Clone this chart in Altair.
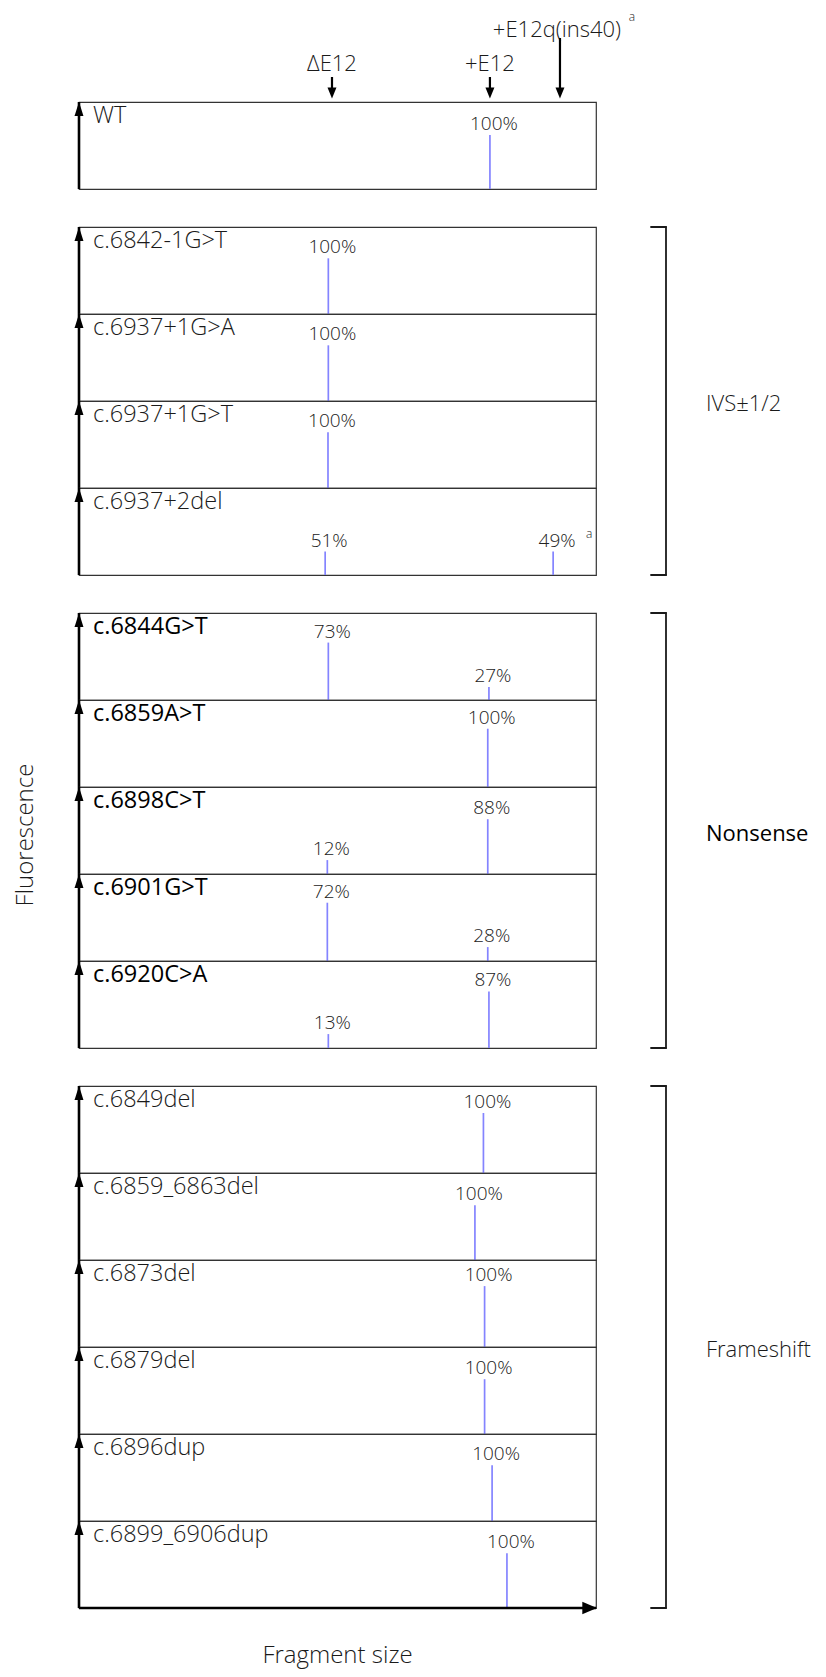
import altair as alt
import pandas as pd

# ---------------- data ----------------
panel_names = ["WT",
               "c.6842-1G>T", "c.6937+1G>A", "c.6937+1G>T", "c.6937+2del",
               "c.6844G>T", "c.6859A>T", "c.6898C>T", "c.6901G>T", "c.6920C>A",
               "c.6849del", "c.6859_6863del", "c.6873del", "c.6879del",
               "c.6896dup", "c.6899_6906dup"]
panel_groups = ["WT"] + ["IVS±1/2"] * 4 + ["Nonsense"] * 5 + ["Frameshift"] * 6

peak_panel = ["WT", "c.6842-1G>T", "c.6937+1G>A", "c.6937+1G>T",
              "c.6937+2del", "c.6937+2del",
              "c.6844G>T", "c.6844G>T", "c.6859A>T",
              "c.6898C>T", "c.6898C>T", "c.6901G>T", "c.6901G>T",
              "c.6920C>A", "c.6920C>A",
              "c.6849del", "c.6859_6863del", "c.6873del", "c.6879del",
              "c.6896dup", "c.6899_6906dup"]
peak_size = [246.4, 149.5, 149.5, 149.3,
             147.6, 284.3,
             149.5, 245.8, 245.1,
             148.9, 245.1, 148.9, 245.1,
             149.5, 245.8,
             242.5, 237.4, 243.2, 243.2,
             247.7, 256.6]
peak_height = [62, 64, 64, 64,
               27, 27,
               66, 15, 67,
               16, 63, 67, 16,
               16, 65,
               69, 63, 70, 63,
               64, 63]
peak_label = ["100%", "100%", "100%", "100%",
              "51%", "49%",
              "73%", "27%", "100%",
              "12%", "88%", "72%", "28%",
              "13%", "87%",
              "100%", "100%", "100%", "100%",
              "100%", "100%"]
peak_note = [""] * 5 + ["a"] + [""] * 15

marker_names = ["ΔE12", "+E12", "+E12q(ins40)"]
marker_size = [151.7, 246.4, 288.4]
marker_tier = [0, 0, 1]
marker_note = ["", "", "a"]

x_domain = [0, 310]
y_domain = [0, 100]
x_title = "Fragment size"
y_title = "Fluorescence"

peaks = pd.DataFrame({"panel": peak_panel, "size": peak_size,
                      "height": peak_height, "label": peak_label,
                      "note": peak_note})
markers = pd.DataFrame({"name": marker_names, "size": marker_size,
                        "tier": marker_tier, "note": marker_note})

# ---------------- style ----------------
FONT = "Open Sans"
LIGHT = 300
W, H, GAP = 517, 87, 38
PEAK = "#8484ff"
UP = "M0,0L0.64,2L-0.64,2Z"
DOWN = "M0,0L-0.64,-1.57L0.64,-1.57Z"
RIGHT = "M0,0L-2.1,-0.9L-2.1,0.9Z"

X = alt.X("size:Q", scale=alt.Scale(domain=x_domain), axis=None)
Y = alt.Y("height:Q", scale=alt.Scale(domain=y_domain), axis=None)


def one(**cols):
    if not cols:
        cols = {"k": [0]}
    return alt.Chart(pd.DataFrame(cols))


def txt(**kw):
    base = dict(font=FONT, fontWeight=LIGHT, color="#1a1a1a")
    base.update(kw)
    return base


def panel(name, group, idx, n, is_last):
    d = peaks[peaks.panel == name]
    base = alt.Chart(d)
    layers = [
        base.mark_rule(color=PEAK, strokeWidth=1.7).encode(x=X, y=Y, y2=alt.datum(0)),
        base.mark_text(**txt(fontSize=19, color="#222", baseline="alphabetic",
                             dx=4, dy=-5)).encode(x=X, y=Y, text="label:N"),
    ]
    dn = d[d.note != ""]
    if len(dn):
        layers.append(alt.Chart(dn).mark_text(**txt(fontSize=12, color="#222",
                                                     dx=36, dy=-18))
                      .encode(x=X, y=Y, text="note:N"))
    strong = group == "Nonsense"
    layers.append(one(name=[name]).mark_text(**txt(
        align="left", baseline="alphabetic", fontSize=23.5,
        fontWeight=400 if strong else LIGHT,
        color="#000" if strong else "#1a1a1a"))
        .encode(x=alt.value(14), y=alt.value(21), text="name:N"))
    # vertical (fluorescence) arrow on the left edge
    layers.append(one().mark_rule(color="black", strokeWidth=2.6)
                  .encode(x=alt.value(0), y=alt.value(0), y2=alt.value(H)))
    layers.append(one().mark_point(shape=UP, size=196, filled=True, opacity=1,
                                   color="black", strokeWidth=0)
                  .encode(x=alt.value(0), y=alt.value(0)))

    if group != "WT" and idx == 0:
        GH = n * H
        layers += [
            one().mark_rule(color="#1a1a1a", strokeWidth=1.8, strokeCap="round")
            .encode(x=alt.value(587), y=alt.value(0), y2=alt.value(GH)),
            one().mark_rule(color="#1a1a1a", strokeWidth=1.8, strokeCap="round")
            .encode(x=alt.value(572), x2=alt.value(587), y=alt.value(0)),
            one().mark_rule(color="#1a1a1a", strokeWidth=1.8, strokeCap="round")
            .encode(x=alt.value(572), x2=alt.value(587), y=alt.value(GH)),
            one(g=[group]).mark_text(**txt(
                align="left", baseline="middle", fontSize=22,
                fontWeight=400 if strong else LIGHT,
                color="#000" if strong else "#1a1a1a"))
            .encode(x=alt.value(627), y=alt.value(GH / 2 + 3), text="g:N"),
        ]

    if group == "Nonsense" and idx == 2:
        layers.append(one(t=[y_title]).mark_text(**txt(
            angle=270, baseline="middle", align="center", fontSize=24))
            .encode(x=alt.value(-53), y=alt.value(48), text="t:N"))

    if group == "WT":
        for tier, ty, top, tdx in [(0, -38, -25, 0), (1, -72, -64, -3)]:
            m = markers[markers.tier == tier]
            layers += [
                alt.Chart(m).mark_text(**txt(fontSize=22, baseline="middle", dx=tdx))
                .encode(x=X, y=alt.value(ty), text="name:N"),
                alt.Chart(m).mark_rule(color="black", strokeWidth=2.2)
                .encode(x=X, y=alt.value(top), y2=alt.value(-12)),
            ]
        layers.append(alt.Chart(markers).mark_point(
            shape=DOWN, size=196, filled=True, opacity=1, color="black", strokeWidth=0)
            .encode(x=X, y=alt.value(-3.5)))
        mn = markers[markers.note != ""]
        layers.append(alt.Chart(mn).mark_text(**txt(fontSize=12, baseline="middle", dx=72))
                      .encode(x=X, y=alt.value(-85), text="note:N"))

    if is_last:
        layers += [
            one().mark_rule(color="black", strokeWidth=2.6)
            .encode(x=alt.value(0), x2=alt.value(W), y=alt.value(H)),
            one().mark_point(shape=RIGHT, size=196, filled=True, opacity=1,
                             color="black", strokeWidth=0)
            .encode(x=alt.value(W + 1), y=alt.value(H)),
            one(t=[x_title]).mark_text(**txt(fontSize=24, baseline="middle"))
            .encode(x=alt.value(W / 2), y=alt.value(H + 48), text="t:N"),
        ]

    return alt.layer(*layers).properties(width=W, height=H)


def spacer():
    return (one().mark_point(opacity=0)
            .encode(x=alt.value(0), y=alt.value(0))
            .properties(width=W, height=GAP,
                        view=alt.ViewBackground(stroke="transparent")))


rows = []
prev_group = None
total = len(panel_names)
group_sizes = {g: panel_groups.count(g) for g in panel_groups}
idx_in_group = {}
for k, (nm, g) in enumerate(zip(panel_names, panel_groups)):
    if prev_group is not None and g != prev_group:
        rows.append(spacer())
    i = idx_in_group.get(g, 0)
    idx_in_group[g] = i + 1
    rows.append(panel(nm, g, i, group_sizes[g], k == total - 1))
    prev_group = g

chart = alt.vconcat(*rows, spacing=0, bounds="flush").properties(
    padding={"left": 5, "top": 2, "right": 0, "bottom": 0}
).configure_view(stroke="#333333", strokeWidth=1.2)

chart.save("out.html", embed_options={"renderer": "svg", "actions": False})
